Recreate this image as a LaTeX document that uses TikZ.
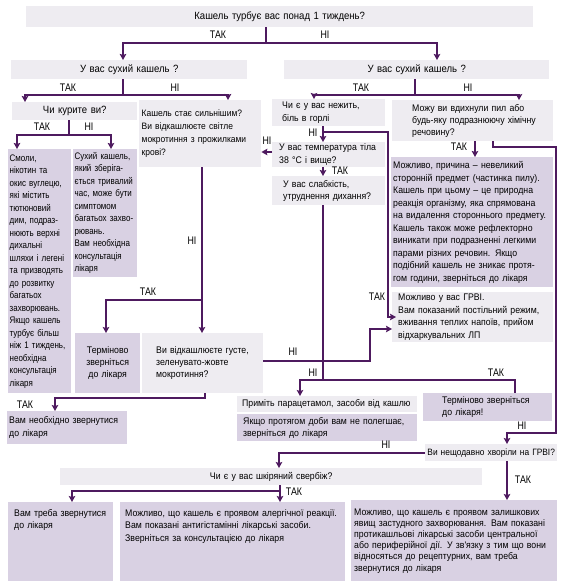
\documentclass[tikz,border=0pt]{standalone}
\usepackage{fontspec}
\newfontfamily\boxfont[FakeStretch=0.91]{Liberation Sans}
\newfontfamily\slimfont[FakeStretch=0.84]{Liberation Sans}
\newfontfamily\tagfont[FakeStretch=0.8]{Liberation Sans}
\usetikzlibrary{arrows.meta,positioning}
\definecolor{qfill}{HTML}{EEECF1}
\definecolor{afill}{HTML}{D9D1E3}
\definecolor{flowc}{HTML}{4E1A5F}

\begin{document}
\begin{tikzpicture}[
  x=1pt, y=-1pt,
  lead/.style={font=\boxfont\fontsize{9.6}{#1}\selectfont},
  slim/.style={font=\slimfont\fontsize{9.5}{#1}\selectfont},
  hdr/.style={font=\boxfont\fontsize{10.5}{12}\selectfont},
  qbox/.style={fill=qfill, anchor=north west, inner xsep=3pt, inner ysep=0pt,
               align=left, lead=12.5},
  abox/.style={qbox, fill=afill},
  pad/.style={execute at begin node={\leftskip=#1}},
  tall/.style={text height=14pt, text depth=#1pt-14pt},
  tag/.style={font=\tagfont\fontsize{11}{12}\selectfont, inner sep=0pt},
  flow/.style={draw=flowc, line width=2.2pt},
  >={Stealth[length=6pt,width=6.5pt,inset=1pt]}
]
\useasboundingbox (0,0) rectangle (565,585);

\node[qbox, hdr, align=center, text width=501pt, minimum height=21pt] (q1) at (26,6) {Кашель турбує вас понад 1 тиждень?};
\node[qbox, hdr, align=center, text width=230pt, minimum height=19pt] (q2l) at (11,60) {У вас сухий кашель ?};
\node[qbox, hdr, align=center, text width=259pt, minimum height=19pt] (q2r) at (284,60) {У вас сухий кашель ?};

\node[qbox, hdr, align=center, text width=119pt, minimum height=18pt] (smk) at (12,102) {Чи курите ви?};
\node[abox, slim=12.5, inner xsep=1.5pt, text width=60pt, minimum height=244pt] (smkyes) at (8,149)
  {Смоли,\\нікотин та\\окис вуглецю,\\які містить\\тютюновий\\дим, подраз-\\нюють верхні\\дихальні\\шляхи і легені\\та призводять\\до розвитку\\багатьох\\захворювань.\\Якщо кашель\\турбує більш\\ніж 1 тиждень,\\необхідна\\консультація\\лікаря};
\node[abox, slim=12.5, inner xsep=1.5pt, text width=61pt, minimum height=128pt] (smkno) at (73,149)
  {Сухий кашель,\\який зберіга-\\ється тривалий\\час, може бути\\симптомом\\багатьох захво-\\рювань.\\Вам необхідна\\консультація\\лікаря};
\node[qbox, inner xsep=2.5pt, text width=117pt, minimum height=67pt, font=\boxfont\fontsize{9.3}{13}\selectfont] (wrs) at (139,100)
  {Кашель стає сильнішим?\\Ви відкашлюєте світле\\мокротиння з прожилками\\крові?};
\node[abox, align=center, inner xsep=2pt, text width=61pt, minimum height=60pt, lead=12] (urg1) at (75,333)
  {Терміново\\зверніться\\до лікаря};
\node[qbox, pad=11pt, text width=115pt, minimum height=60pt, lead=12] (thick) at (142,333)
  {Ви відкашлюєте густе,\\зеленувато-жовте\\мокротиння?};
\node[abox, inner xsep=2pt, text width=116pt, minimum height=33pt, lead=13] (see1) at (7,411)
  {Вам необхідно звернутися\\до лікаря};

\node[qbox, pad=7pt, text width=107pt, minimum height=27pt] (nez) at (272,99)
  {Чи є у вас нежить,\\біль в горлі};
\node[qbox, pad=4pt, text width=107pt, minimum height=25pt, lead=13] (temp) at (272,142)
  {У вас температура тіла\\38 °C і вище?};
\node[qbox, pad=8pt, text width=107pt, minimum height=29pt, lead=12] (weak) at (272,176)
  {У вас слабкість,\\утруднення дихання?};
\node[qbox, pad=17pt, text width=155pt, minimum height=41pt, lead=12] (dust) at (392,100)
  {Можу ви вдихнули пил або\\будь-яку подразнюючу хімічну\\речовину?};
\node[abox, inner xsep=2pt, text width=158pt, minimum height=130pt] (obj) at (391,157)
  {Можливо, причина – невеликий\\сторонній предмет (частинка пилу).\\Кашель при цьому – це природна\\реакція організму, яка спрямована\\на видалення стороннього предмету.\\Кашель також може рефлекторно\\виникати при подразненні легкими\\парами різних речовин. Якщо\\подібний кашель не зникає протя-\\гом години, зверніться до лікаря};
\node[qbox, pad=3pt, text width=155pt, minimum height=50pt] (flu) at (392,292)
  {Можливо у вас ГРВІ.\\Вам показаний постільний режим,\\вживання теплих напоїв, прийом\\відхаркувальних ЛП};
\node[qbox, pad=2pt, text width=174pt, minimum height=16pt] (para) at (237,396)
  {Приміть парацетамол, засоби від кашлю};
\node[abox, below=1.5pt of para.south west, anchor=north west, pad=3pt, text width=174pt, minimum height=27pt, lead=12] (ifnot)
  {Якщо протягом доби вам не полегшає,\\зверніться до лікаря};
\node[abox, pad=16pt, text width=123pt, minimum height=28pt, lead=11.5] (urg2) at (423,393)
  {Терміново зверніться\\до лікаря!};
\node[qbox, align=center, inner xsep=0pt, text width=132pt, minimum height=17pt, font=\boxfont\fontsize{9.2}{12}\selectfont] (recent) at (425,444)
  {Ви нещодавно хворіли на ГРВІ?};
\node[qbox, align=center, text width=416pt, minimum height=17pt] (itch) at (60,468)
  {Чи є у вас шкіряний свербіж?};

\node[abox, tall=79, pad=4pt, inner xsep=2pt, text width=101pt] (b1) at (8,502)
  {Вам треба звернутися\\до лікаря};
\node[abox, tall=79, pad=2pt, text width=219pt] (b2) at (120,502)
  {Можливо, що кашель є проявом алергічної реакції.\\Вам показані антигістамінні лікарські засоби.\\Зверніться за консультацією до лікаря};
\node[abox, text width=200pt, minimum height=81pt, lead=11.2] (b3) at (351,500)
  {Можливо, що кашель є проявом залишкових\\явищ застудного захворювання. Вам показані\\протикашльові лікарські засоби центральної\\або периферійної дії. У зв'язку з тим що вони\\відносяться до рецептурних, вам треба\\звернутися до лікаря};

\coordinate (j0) at (266,43);
\draw[flow] (q1.south -| j0) -- (j0);
\draw[flow,->] (j0) -| (123,0 |- q2l.north);
\draw[flow,->] (j0) -| (437,0 |- q2r.north);
\node[tag] (t0) at (218,35) {ТАК};
\node[tag] (n0) at (325,35) {НІ};

\coordinate (j1) at (123,95);
\draw[flow] (q2l.south -| j1) -- (j1);
\draw[flow,->] (j1) -| (25,0 |- smk.north);
\draw[flow,->] (j1) -| (228,0 |- wrs.north);
\node[tag] (t1) at (68,88) {ТАК};
\node[tag] (n1) at (175,88) {НІ};

\coordinate (j2) at (415,95);
\draw[flow] (q2r.south -| j2) -- (j2);
\draw[flow,->] (j2) -| (314,0 |- nez.north);
\draw[flow,->] (j2) -| (519,0 |- dust.north);
\node[tag] (t2) at (361,88) {ТАК};
\node[tag] (n2) at (468,88) {НІ};

\coordinate (j3) at (69,135);
\draw[flow] (smk.south -| j3) -- (j3);
\draw[flow,->] (j3) -| (17,0 |- smkyes.north);
\draw[flow,->] (j3) -| (111,0 |- smkno.north);
\node[tag] (t3) at (42,127) {ТАК};
\node[tag] (n3) at (89,127) {НІ};

\coordinate (j4) at (202,300);
\draw[flow,->] (wrs.south -| j4) -- (j4 |- thick.north);
\draw[flow,->] (j4) -| (106,0 |- urg1.north);
\node[tag] (n4) at (192,241) {НІ};
\node[tag] (t4) at (148,292) {ТАК};

\coordinate (j5) at (55,398);
\draw[flow,->] (thick.south -| 205,0) |- (j5) -- (j5 |- see1.north);
\draw[flow,->] (thick.east |- 0,361) -| (370,329) -- (flu.west |- 0,329);
\node[tag] (t5) at (25,405) {ТАК};
\node[tag] (n5) at (293,352) {НІ};

\coordinate (j6) at (323,132);
\coordinate (f1) at (396,317);
\draw[flow,->] (nez.south -| j6) -- (j6 |- temp.north);
\draw[flow,->] (j6) -| (388,317) -- (f1);
\node[tag] (n6) at (313,133) {НІ};
\node[tag] (t6) at (377,297) {ТАК};

\draw[flow,->] (temp.west |- 0,152) -- (wrs.east |- 0,152);
\draw[flow,->] (temp.south -| j6) -- (j6 |- weak.north);
\node[tag] (n7) at (267,141) {НІ};
\node[tag] (t7) at (340,171) {ТАК};

\coordinate (j7) at (323,380);
\draw[flow] (weak.south -| j7) -- (j7);
\draw[flow,->] (j7) -| (300,0 |- para.north);
\draw[flow] (j7) -| (515,0 |- urg2.north);
\node[tag] (n8) at (313,373) {НІ};
\node[tag] (t8) at (496,373) {ТАК};

\draw[flow,->] (dust.south -| 475,0) -- (475,0 |- obj.north);
\draw[flow,->] (dust.south -| 493,0) |- (556,147) |- (507,433) -- (507,0 |- recent.north);
\node[tag] (t9) at (459,147) {ТАК};
\node[tag] (n9) at (522,426) {НІ};

\draw[flow,->] (recent.west) -| (279,0 |- itch.north);
\draw[flow,->] (recent.south -| 507,0) -- (507,0 |- b3.north);
\node[tag] (n10) at (386,445) {НІ};
\node[tag] (t10) at (523,480) {ТАК};

\coordinate (j8) at (280,491);
\draw[flow,->] (itch.south -| j8) -- (j8 |- b2.north);
\draw[flow,->] (j8) -| (72,0 |- b1.north);
\node[tag] (t11) at (294,492) {ТАК};
\end{tikzpicture}
\end{document}
